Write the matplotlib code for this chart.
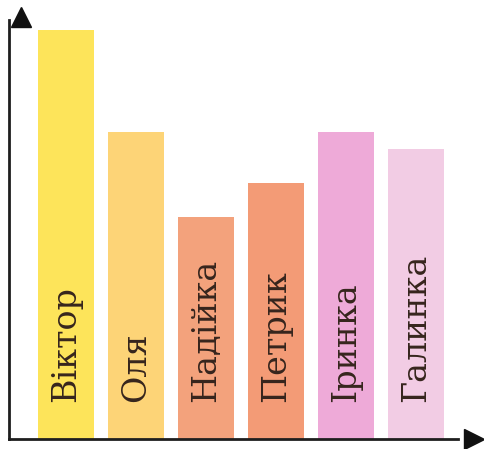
import matplotlib
matplotlib.use("Agg")
import matplotlib.pyplot as plt

# Names and bar heights (arbitrary units)
names = ["Віктор", "Оля", "Надійка", "Петрик", "Іринка", "Галинка"]
values = [24, 18, 13, 15, 18, 17]
colors = ["#FDE45A", "#FDD477", "#F3A27C", "#F39B76", "#EEAAD8", "#F2CCE4"]

W, H = 484, 449
fig = plt.figure(figsize=(W / 100, H / 100), dpi=100)
ax = fig.add_axes([9 / W, 10 / H, 475 / W, 432 / H])

x = range(len(names))
ax.bar(x, values, width=0.8, color=colors, zorder=1)

# labels written inside the bars
for i, name in enumerate(names):
    ax.text(i, 2.2, name, rotation=90, ha="center", va="bottom",
            fontsize=24, family="DejaVu Serif", color="#36251d", zorder=3)

ax.set_xlim(-0.814, 5.97)
ax.set_ylim(0, 25.35)
ax.axis("off")

# axes with arrow heads
ax.plot([0, 0.945], [0, 0], color="#1e1e1e", lw=2, transform=ax.transAxes, clip_on=False)
ax.plot([0, 0], [0, 0.97], color="#1e1e1e", lw=2, transform=ax.transAxes, clip_on=False)
ax.plot(0.978, 0.0, ">", color="#111111", ms=14, transform=ax.transAxes, clip_on=False)
ax.plot(0.025, 0.978, "^", color="#111111", ms=14, transform=ax.transAxes, clip_on=False)

fig.savefig("out.png", dpi=100, facecolor="white")
